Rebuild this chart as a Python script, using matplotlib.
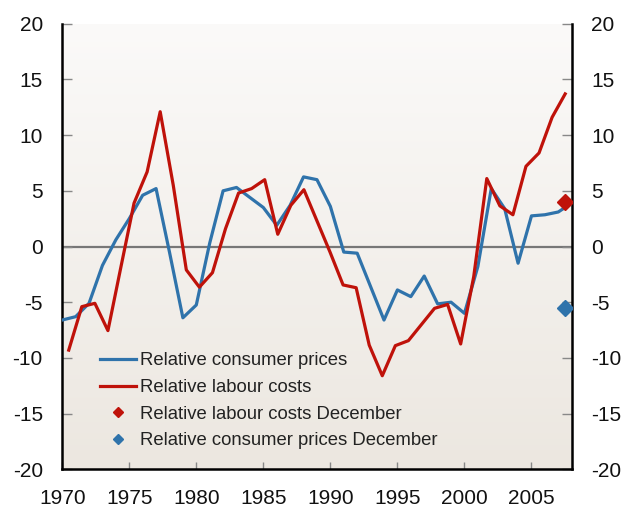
import numpy as np
import matplotlib
matplotlib.use("Agg")
import matplotlib.pyplot as plt
from matplotlib.lines import Line2D

plt.rcParams["font.family"] = ["Liberation Sans", "DejaVu Sans"]
plt.rcParams["axes.unicode_minus"] = False

# Annual data 1970-2008
years = list(range(1970, 2009))

consumer_prices = [-6.6, -6.3, -5.1, -1.7, 0.6, 2.5, 4.6, 5.2, -0.5, -6.4,
                   -5.25, 0.3, 5.0, 5.3, 4.4, 3.5, 1.9, 3.7, 6.25, 6.0,
                   3.6, -0.5, -0.6, -3.6, -6.6, -3.9, -4.5, -2.65, -5.15, -5.0,
                   -6.0, -1.8, 5.2, 3.4, -1.5, 2.75, 2.85, 3.1, 3.9]

labour_costs = [-9.3, -5.4, -5.1, -7.55, -1.8, 3.9, 6.7, 12.1, 5.5, -2.1,
                -3.65, -2.35, 1.6, 4.8, 5.2, 6.0, 1.1, 3.7, 5.1, 2.3,
                -0.5, -3.45, -3.7, -8.85, -11.6, -8.9, -8.45, -7.0, -5.55, -5.2,
                -8.75, -2.7, 6.1, 3.65, 2.85, 7.2, 8.4, 11.6, 13.7]

# December values
labour_dec = 4.0
prices_dec = -5.55

blue = "#2f73ab"
red = "#bf120a"

fig = plt.figure(figsize=(6.24, 5.08), dpi=100)
ax = fig.add_axes([0.0997, 0.0762, 0.8165, 0.8771])

x_min, x_max = 1970, 2008
ax.set_xlim(x_min, x_max)
ax.set_ylim(-20, 20)

# background gradient in the plot area
grad = np.linspace(0, 1, 256).reshape(-1, 1)
top_c = np.array([251, 250, 249]) / 255
bot_c = np.array([236, 231, 224]) / 255
img = top_c + (bot_c - top_c) * grad[:, :, None]
ax.imshow(img, extent=[x_min, x_max, -20, 20], aspect="auto", zorder=0)

# labour costs sit on category slots, prices on the year ticks
n = len(years)
slot = (x_max - x_min) / n
x_labour = x_min + (np.arange(n) + 0.5) * slot

ax.axhline(0, color="#777777", lw=1.6, zorder=1)
ax.plot(years, consumer_prices, color=blue, lw=2.3, zorder=3)
ax.plot(x_labour, labour_costs, color=red, lw=2.3, zorder=3)
ax.plot(x_labour[-1], labour_dec, "D", color=red, ms=8.5, zorder=4)
ax.plot(x_labour[-1], prices_dec, "D", color=blue, ms=8.5, zorder=4)

ax.set_xticks(range(1970, 2006, 5))
ax.set_yticks(range(-20, 21, 5))
ax.tick_params(axis="x", direction="in", length=5, width=1, color="#888888",
               labelsize=15, pad=14, labelcolor="#111111")
ax.tick_params(axis="y", direction="in", length=7, width=1, color="#888888",
               labelsize=15, pad=14, labelcolor="#111111",
               left=True, right=True, labelleft=True, labelright=True)
ax.tick_params(axis="y", which="both", labelright=True)
for lbl in ax.get_yticklabels(which="major"):
    pass

for side in ["left", "right", "bottom"]:
    ax.spines[side].set_linewidth(1.8)
    ax.spines[side].set_color("black")
ax.spines["top"].set_visible(False)

handles = [
    Line2D([], [], color=blue, lw=2.3),
    Line2D([], [], color=red, lw=2.3),
    Line2D([], [], color=red, marker="D", ls="none", ms=5.5),
    Line2D([], [], color=blue, marker="D", ls="none", ms=5.5),
]
labels = ["Relative consumer prices", "Relative labour costs",
          "Relative labour costs December", "Relative consumer prices December"]
ax.legend(handles, labels, loc="upper left", bbox_to_anchor=(0.056, 0.283),
          frameon=False, fontsize=13.3, handlelength=1.95, handletextpad=0.2,
          labelspacing=0.52, borderpad=0, labelcolor="#222222")

fig.savefig("out.png", dpi=100)
